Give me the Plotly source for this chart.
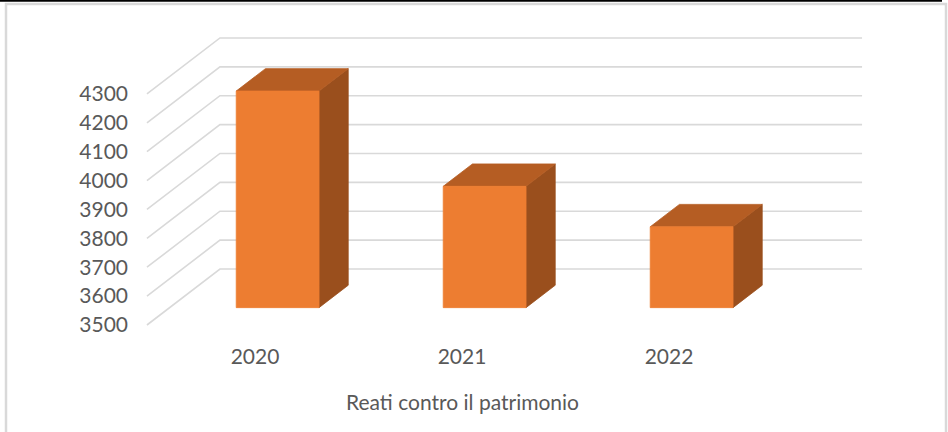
import plotly.graph_objects as go

# ---- data -------------------------------------------------------------
years = ["2020", "2021", "2022"]
reati = [4250, 3920, 3780]
value_ticks = [3500, 3600, 3700, 3800, 3900, 4000, 4100, 4200, 4300]
axis_title = "Reati contro il patrimonio"

# ---- 3D-look geometry (oblique projection) ----------------------------
FIG_W, FIG_H = 948, 432
PX_PER_CAT = 207.0      # horizontal pixels per category
PX_PER_UNIT = 0.2888    # vertical pixels per value unit
X0_PX, Y0_PX = 255.0, 325.0   # front-plane position of category 0 / base value
BASE = value_ticks[0]
L, R, T, B = 140, 38, 20, 100

DEPTH_X = 73 / PX_PER_CAT       # depth vector in data units
DEPTH_Y = 56 / PX_PER_UNIT
WALL_L, WALL_R = -0.522, 2.58   # floor extent on the front plane
F1, F2 = 0.31, 0.71             # bar front / back depth fraction
HALF_W = 0.20                   # half bar width (gap width 150%)

plot_w = FIG_W - L - R
plot_h = FIG_H - T - B
x_range = [(L - X0_PX) / PX_PER_CAT, (FIG_W - R - X0_PX) / PX_PER_CAT]
y_range = [BASE - (FIG_H - B - Y0_PX) / PX_PER_UNIT, BASE + (Y0_PX - T) / PX_PER_UNIT]


def px_to_paper(px, py):
    return (px - L) / plot_w, 1 - (py - T) / plot_h


ORANGE = "#ED7D31"
ORANGE_TOP = "#B55D23"
ORANGE_SIDE = "#9A4F1D"
GRID = "#D9D9D9"
TEXT = "#595959"
FONT = "Lato"

fig = go.Figure()

# walls: diagonal on the side wall, horizontal on the back wall
gx, gy = [], []
for v in value_ticks:
    gx += [WALL_L, WALL_L + DEPTH_X, WALL_R + DEPTH_X, None]
    gy += [v, v + DEPTH_Y, v + DEPTH_Y, None]
fig.add_trace(go.Scatter(x=gx, y=gy, mode="lines",
                         line=dict(color=GRID, width=1.6),
                         hoverinfo="skip", showlegend=False))

# bars: front, top and right-side faces
ox1, oy1 = F1 * DEPTH_X, F1 * DEPTH_Y
ox2, oy2 = F2 * DEPTH_X, F2 * DEPTH_Y
faces = {"front": ([], []), "top": ([], []), "side": ([], [])}
for i, v in enumerate(reati):
    xl, xr = i - HALF_W, i + HALF_W
    fx, fy = faces["front"]
    fx += [xl + ox1, xr + ox1, xr + ox1, xl + ox1, xl + ox1, None]
    fy += [BASE + oy1, BASE + oy1, v + oy1, v + oy1, BASE + oy1, None]
    tx, ty = faces["top"]
    tx += [xl + ox1, xr + ox1, xr + ox2, xl + ox2, xl + ox1, None]
    ty += [v + oy1, v + oy1, v + oy2, v + oy2, v + oy1, None]
    sx, sy = faces["side"]
    sx += [xr + ox1, xr + ox2, xr + ox2, xr + ox1, xr + ox1, None]
    sy += [BASE + oy1, BASE + oy2, v + oy2, v + oy1, BASE + oy1, None]

for name, color in (("side", ORANGE_SIDE), ("top", ORANGE_TOP), ("front", ORANGE)):
    xs, ys = faces[name]
    fig.add_trace(go.Scatter(x=xs, y=ys, mode="lines", fill="toself",
                             fillcolor=color, line=dict(color=color, width=0.8),
                             hoverinfo="skip", showlegend=False))

# chart frame
x_a, y_a = px_to_paper(6, 4)
x_b, y_b = px_to_paper(946, FIG_H + 5)
fig.add_shape(type="rect", xref="paper", yref="paper", x0=x_a, y0=y_a, x1=x_b, y1=y_b,
              line=dict(color=GRID, width=2.5), layer="below")
x_c, y_c = px_to_paper(0, 0.8)
x_d, _ = px_to_paper(942, 0.8)
fig.add_shape(type="line", xref="paper", yref="paper", x0=x_c, y0=y_c, x1=x_d, y1=y_c,
              line=dict(color="#000000", width=2))

tx_title, ty_title = px_to_paper(0, 401)
fig.add_annotation(text=axis_title, xref="x", yref="paper", x=1, y=ty_title,
                   xanchor="center", yanchor="middle", showarrow=False,
                   font=dict(family=FONT, size=21, color=TEXT))

fig.update_layout(
    width=FIG_W, height=FIG_H,
    margin=dict(l=L, r=R, t=T, b=B),
    paper_bgcolor="white", plot_bgcolor="white",
    showlegend=False,
    font=dict(family=FONT, size=21, color=TEXT),
    xaxis=dict(range=x_range, tickvals=list(range(len(years))), ticktext=years,
               showgrid=False, zeroline=False, showline=False, ticks="",
               ticklabelstandoff=10, fixedrange=True),
    yaxis=dict(range=y_range, tickvals=value_ticks, showgrid=False,
               zeroline=False, showline=False, ticks="",
               ticklabelstandoff=11, fixedrange=True),
)

fig.write_html("out.html", config={"displayModeBar": False})
